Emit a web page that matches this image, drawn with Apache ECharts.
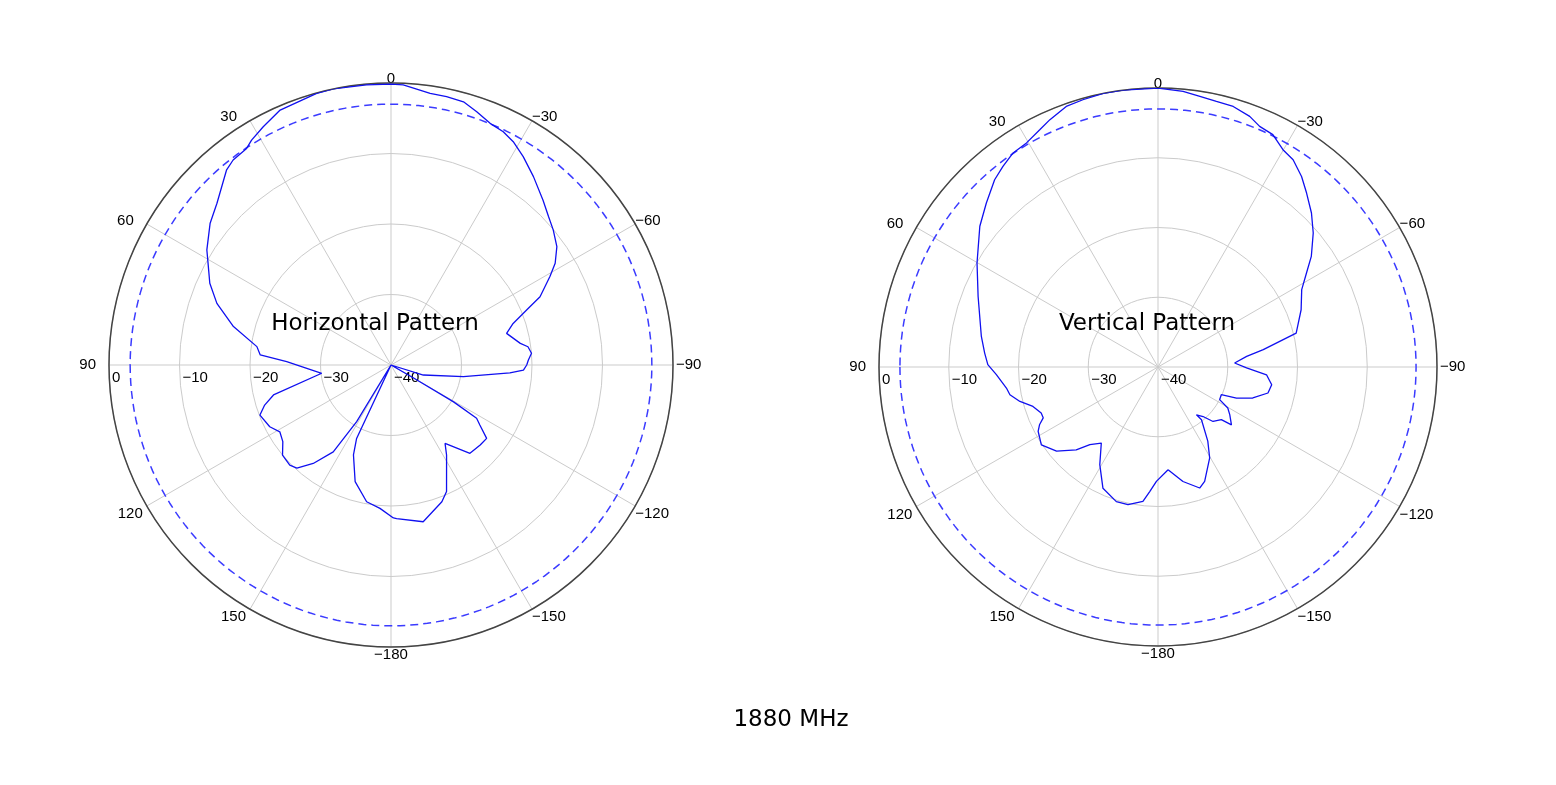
<!DOCTYPE html>
<html>
<head>
<meta charset="utf-8">
<script src="https://cdn.jsdelivr.net/npm/echarts@6/dist/echarts.min.js"></script>
<style>
html,body{margin:0;padding:0;background:#fff;}
#c{width:1556px;height:785px;}
</style>
</head>
<body>
<div id="c"></div>
<script>
// Angle (deg, counter-clockwise from top) and gain (dB)
const hAngles = [-179.1,-177.9,-168.4,-159.6,-156.3,-148.3,-145.4,-138.2,-131.9,-127.5,-124,-121.9,-120.5,-120,-119,-108,-107.2,-99.2,-93.8,-92.2,-90,-87.9,-85.2,-82.4,-80.5,-74.7,-71.2,-67.9,-65.4,-60.9,-58.2,-54.5,-50.2,-46.7,-42.7,-37.1,-32.4,-28.7,-25.7,-22.3,-18.7,-15.4,-11.7,-8.2,-2.5,0,5,11.8,15.3,23.5,28.2,31.8,33.7,37.6,40.1,47.1,51.9,58,60.9,65.7,70.5,76.3,82.2,85.6,88.2,96.8,104.3,107.6,110.9,117,121,125.3,129.7,134.7,137.6,141.7,146.4,148.8,150.2,154.9,157.3,162.9,169.9,175.6];
const hGain = [-18.3,-18.2,-17.3,-19.3,-20.4,-25.0,-26.5,-23.2,-23.0,-22.9,-24.8,-25.7,-29.7,-36.3,-40,-40,-35.2,-29.6,-23.1,-21.2,-20.75,-20.5,-20.0,-20.4,-21.4,-23.0,-21.7,-19.2,-16.75,-14.2,-12.6,-11.1,-10.05,-9.3,-8.2,-6.5,-5.0,-3.89,-3.28,-2.95,-2.07,-1.28,-1.13,-1.06,-0.24,-0.15,-0.1,0,-0.05,-0.57,-1.65,-2.47,-3.08,-3.3,-3.8,-6.3,-7.4,-9.2,-10.3,-11.8,-13.8,-17.0,-20.8,-21.4,-25.2,-30.1,-22.8,-21.2,-20.1,-20.7,-21.6,-21.2,-20.0,-19.8,-20.2,-22.2,-25.2,-30.6,-40,-28.5,-26.2,-22.7,-20.3,-19.6];

const vAngles = [-174.4,-167.7,-161,-157.8,-150.4,-146.1,-140.5,-141.2,-137.7,-134.7,-129.7,-128.2,-123.6,-120.4,-117.9,-113.6,-111.6,-108.1,-103.3,-98.9,-94.1,-90.6,-87,-83.2,-80.6,-77.7,-76.2,-68.2,-61.7,-57.65,-54.2,-49.2,-44.9,-40.5,-37,-33.1,-29.9,-26.3,-22.9,-20.1,-16.1,-12.4,-8.8,-5.2,0,7.2,11.3,15.7,19.4,23.6,26.5,30.4,34.1,37.7,41.1,46.3,51.7,60.1,68.6,80.2,85.4,89.2,92.7,97.9,100.6,104,107.5,111.5,113.9,116,118.2,123.7,129.7,135.4,138.7,143.3,149.2,155.6,162.8,167.7,173.6,176.2,179.2];
const vGain = [-25.2,-23.2,-21.65,-22.3,-25.0,-27.2,-30.2,-31.2,-30.4,-28.9,-28.2,-26.6,-27.65,-28.4,-30.0,-30.1,-27.9,-25.7,-23.8,-23.5,-24.4,-27.3,-29.0,-27.2,-24.7,-21.7,-19.6,-17.9,-16.6,-14.8,-12.9,-10.6,-8.83,-7.2,-5.8,-4.53,-4.06,-2.84,-2.55,-1.74,-1.12,-1.02,-0.75,-0.33,0,0,0,-0.2,-0.4,-1.3,-2.0,-2.75,-2.94,-3.65,-4.37,-5.96,-7.45,-10.07,-12.3,-14.3,-15.07,-15.6,-16.8,-18.06,-18.4,-19.6,-21.2,-22.0,-22.0,-21.1,-20.5,-19.9,-21.1,-23.3,-25.2,-26.4,-23.7,-20.9,-19.8,-19.8,-20.6,-22.1,-23.6];

const angleTicks = [90,120,150,180,210,240,270,300,330,360,390,420,450];
const radiusTicks = [-40,-30,-20,-10,0];
const halfPowerLevel = -3;
const titles = ['Horizontal Pattern','Vertical Pattern'];
const mainTitle = '1880 MHz';

const MINUS = '\u2212';
function normAngle(v){ let a = ((v % 360) + 360) % 360; if (a >= 180) a -= 360; return a; }
function fmtAngle(v){
  const a = normAngle(v);
  const txt = a < 0 ? MINUS + (-a) : String(a);
  let key;
  if (a === 0) key = 'tc';
  else if (a === -180) key = 'bc';
  else if (a === 90) key = 'ml';
  else if (a === -90) key = 'mr';
  else if (a > 0 && a < 90) key = 'ul';
  else if (a > 90) key = 'll';
  else if (a < 0 && a > -90) key = 'ur';
  else key = 'lr';
  return '{' + key + '|' + txt + '}';
}
function fmtRadius(v){ return v < 0 ? MINUS + (-v) : String(v); }
function toAxisAngle(t){ return t < 90 ? t + 360 : t; }
function buildSeriesData(angles, gains){
  const d = angles.map((t,i)=>[Math.max(gains[i], radiusTicks[0]), toAxisAngle(t)]);
  d.push(d[0].slice());
  return d;
}
function circleData(level){
  const d = [];
  for (let a = angleTicks[0]; a <= angleTicks[angleTicks.length-1]; a += 2) d.push([level, a]);
  return d;
}

const FONT = 'Liberation Sans';
const FS = 15;
const base = {fontFamily:FONT, fontSize:FS, color:'#000'};
const layouts = [{center:[391,365], radius:282},{center:[1158,367], radius:279}];

function angleAxis(i){
  return {
    polarIndex:i, type:'value', min:angleTicks[0], max:angleTicks[angleTicks.length-1], interval:30,
    startAngle:180, clockwise:false,
    axisLine:{show:true, lineStyle:{color:'#444', width:1.5}},
    axisTick:{show:false},
    axisLabel:{show:true, margin:0, color:'#000', fontSize:FS, fontFamily:FONT, formatter:fmtAngle,
      rich:{
        tc:Object.assign({lineHeight:8}, base),
        bc:Object.assign({lineHeight:16}, base),
        ml:Object.assign({padding:[0,13,0,0]}, base),
        mr:Object.assign({padding:[0,0,0,3]}, base),
        ul:Object.assign({lineHeight:7, padding:[0,13,0,0]}, base),
        ll:Object.assign({lineHeight:16, padding:[0,4,0,0]}, base),
        ur:Object.assign({lineHeight:7}, base),
        lr:Object.assign({lineHeight:16}, base)
      }},
    splitLine:{show:true, lineStyle:{color:'#cbcbcb', width:1}}
  };
}
function radiusAxis(i){
  return {
    polarIndex:i, type:'value', min:radiusTicks[0], max:radiusTicks[radiusTicks.length-1], interval:10,
    axisLine:{show:false}, axisTick:{show:false},
    axisLabel:{show:true, color:'#000', fontSize:FS, fontFamily:FONT, formatter:fmtRadius, align:'left', margin:5, padding:[0,0,0,3]},
    splitLine:{show:true, lineStyle:{color:'#cbcbcb', width:1}}
  };
}
const titleStyle = {fontFamily:'DejaVu Sans', fontSize:23, fontWeight:'normal', color:'#000'};

const chart = echarts.init(document.getElementById('c'), null, {renderer:'canvas'});
chart.setOption({
  backgroundColor:'#fff',
  animation:false,
  title:[
    {text:titles[0], left:370, top:308, textAlign:'center', textStyle:titleStyle},
    {text:titles[1], left:1142, top:308, textAlign:'center', textStyle:titleStyle},
    {text:mainTitle, left:786, top:704, textAlign:'center', textStyle:titleStyle}
  ],
  polar: layouts.map(l=>({center:l.center, radius:l.radius})),
  angleAxis:[angleAxis(0), angleAxis(1)],
  radiusAxis:[radiusAxis(0), radiusAxis(1)],
  series:[
    {type:'line', coordinateSystem:'polar', polarIndex:0, data:circleData(halfPowerLevel), showSymbol:false, silent:true,
     lineStyle:{color:'#3b3bff', width:1.5, type:[8,5]}, z:2},
    {type:'line', coordinateSystem:'polar', polarIndex:1, data:circleData(halfPowerLevel), showSymbol:false, silent:true,
     lineStyle:{color:'#3b3bff', width:1.5, type:[8,5]}, z:2},
    {type:'line', coordinateSystem:'polar', polarIndex:0, data:buildSeriesData(hAngles,hGain), showSymbol:false,
     lineStyle:{color:'#1010f0', width:1.3}, z:3},
    {type:'line', coordinateSystem:'polar', polarIndex:1, data:buildSeriesData(vAngles,vGain), showSymbol:false,
     lineStyle:{color:'#1010f0', width:1.3}, z:3}
  ]
});
</script>
</body>
</html>
